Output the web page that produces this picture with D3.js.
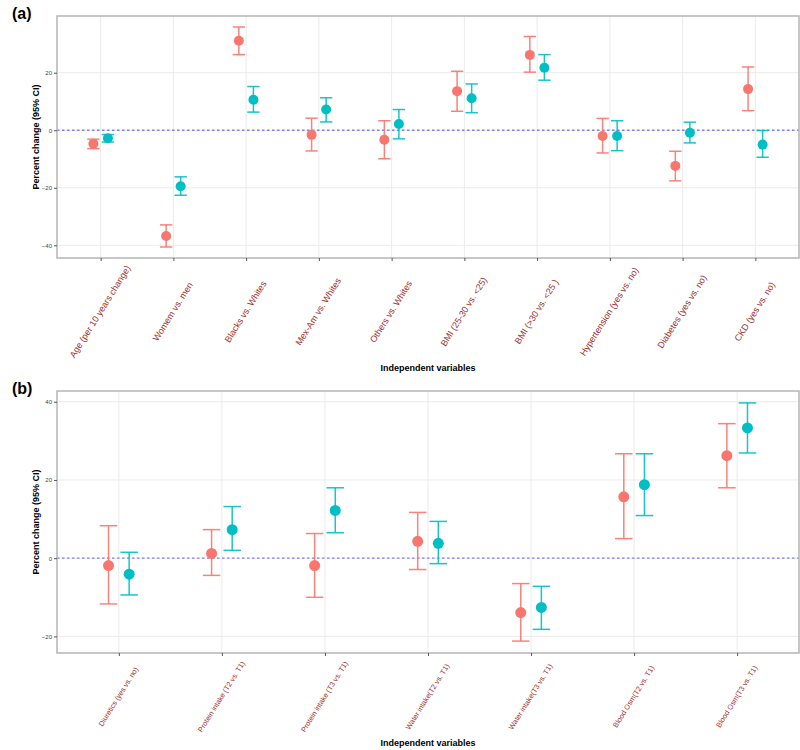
<!DOCTYPE html>
<html>
<head>
<meta charset="utf-8">
<script src="https://cdn.jsdelivr.net/npm/d3@7"></script>
<style>
  body { margin: 0; background: #fff; }
  svg { font-family: "Liberation Sans", Arial, sans-serif; }
</style>
</head>
<body>
<svg id="chart" width="800" height="750"></svg>
<script>
// DATA -----------------------------------------------------------------------------------------------------------------

// Panel (a)
var catsA = ["Age (per 10 years change)", "Womem vs. men", "Blacks vs. Whites", "Mex-Am vs. Whites", "Others vs. Whites",
             "BMI (25-30 vs. <25)", "BMI (>30 vs. <25 )", "Hypertension (yes vs. no)", "Diabetes (yes vs. no)", "CKD (yes vs. no)"];
var estA1 = [-4.7, -36.8, 31.1, -1.6, -3.3, 13.6, 26.2, -2.0, -12.4, 14.3];
var lowA1 = [-6.4, -40.6, 26.3, -7.2, -9.9, 6.6, 20.2, -7.9, -17.6, 6.8];
var uppA1 = [-3.1, -32.9, 35.9, 4.2, 3.3, 20.5, 32.6, 4.1, -7.3, 22.0];
var estA2 = [-2.8, -19.5, 10.6, 7.2, 2.2, 11.1, 21.7, -2.0, -0.9, -5.0];
var lowA2 = [-4.1, -22.6, 6.3, 2.9, -3.0, 6.1, 17.4, -7.1, -4.4, -9.4];
var uppA2 = [-1.5, -16.2, 15.2, 11.3, 7.2, 16.1, 26.3, 3.3, 2.8, -0.1];
var ticksA = [-40, -20, 0, 20];

// Panel (b)
var catsB = ["Diuretics (yes vs. no)", "Protein intake (T2 vs. T1)", "Protein intake (T3 vs. T1)", "Water intake(T2 vs. T1)",
             "Water intake(T3 vs. T1)", "Blood Osm(T2 vs. T1)", "Blood Osm(T3 vs. T1)"];
var estB1 = [-1.9, 1.2, -1.9, 4.3, -13.9, 15.7, 26.2];
var lowB1 = [-11.7, -4.4, -10.0, -2.9, -21.2, 5.0, 18.0];
var uppB1 = [8.3, 7.3, 6.3, 11.7, -6.5, 26.7, 34.4];
var estB2 = [-4.1, 7.3, 12.2, 3.8, -12.6, 18.8, 33.3];
var lowB2 = [-9.4, 2.0, 6.5, -1.4, -18.2, 10.9, 26.9];
var uppB2 = [1.5, 13.2, 18.0, 9.4, -7.2, 26.7, 39.7];
var ticksB = [-20, 0, 20, 40];

var groupColors = ["#F8766D", "#00BFC4"];

// DRAWING --------------------------------------------------------------------------------------------------------------
var svg = d3.select("#chart");

function drawPanel(opt) {
  var g = svg.append("g");
  var x = d3.scalePoint().domain(opt.cats).range([opt.left, opt.right]).padding(0.6);
  var step = x.step();

  // Build rows for both groups
  var rows = [];
  opt.cats.forEach(function(c, i) {
    rows.push({cat: c, grp: 0, est: opt.est1[i], lo: opt.low1[i], hi: opt.upp1[i]});
    rows.push({cat: c, grp: 1, est: opt.est2[i], lo: opt.low2[i], hi: opt.upp2[i]});
  });

  // ggplot style 5% expansion of the y range
  var lo = d3.min(rows, function(d) { return d.lo; });
  var hi = d3.max(rows, function(d) { return d.hi; });
  var pad = (hi - lo) * 0.05;
  var y = d3.scaleLinear().domain([lo - pad, hi + pad]).range([opt.bottom, opt.top]);

  // Grid lines
  g.selectAll(".hgrid").data(opt.ticks).enter().append("line")
    .attr("x1", opt.left).attr("x2", opt.right)
    .attr("y1", function(d) { return y(d); }).attr("y2", function(d) { return y(d); })
    .attr("stroke", "#ebebeb").attr("stroke-width", 1);
  g.selectAll(".vgrid").data(opt.cats).enter().append("line")
    .attr("x1", function(d) { return x(d); }).attr("x2", function(d) { return x(d); })
    .attr("y1", opt.top).attr("y2", opt.bottom)
    .attr("stroke", "#ebebeb").attr("stroke-width", 1);

  // Zero reference line
  g.append("line")
    .attr("x1", opt.left).attr("x2", opt.right)
    .attr("y1", y(0)).attr("y2", y(0))
    .attr("stroke", "#7f7ff2").attr("stroke-width", 1.3)
    .attr("stroke-dasharray", "2.5,2.5");

  // Error bars + points
  var dodge = step * 0.1;
  var cap = step * 0.085;
  function cx(d) { return x(d.cat) + (d.grp === 0 ? -dodge : dodge); }

  var eb = g.selectAll(".eb").data(rows).enter().append("g")
    .attr("stroke", function(d) { return groupColors[d.grp]; })
    .attr("stroke-width", 1.5)
    .attr("stroke-opacity", 0.9);
  eb.append("line")
    .attr("x1", cx).attr("x2", cx)
    .attr("y1", function(d) { return y(d.lo); }).attr("y2", function(d) { return y(d.hi); });
  eb.append("line")
    .attr("x1", function(d) { return cx(d) - cap; }).attr("x2", function(d) { return cx(d) + cap; })
    .attr("y1", function(d) { return y(d.lo); }).attr("y2", function(d) { return y(d.lo); });
  eb.append("line")
    .attr("x1", function(d) { return cx(d) - cap; }).attr("x2", function(d) { return cx(d) + cap; })
    .attr("y1", function(d) { return y(d.hi); }).attr("y2", function(d) { return y(d.hi); });

  g.selectAll(".pt").data(rows).enter().append("circle")
    .attr("cx", cx)
    .attr("cy", function(d) { return y(d.est); })
    .attr("r", opt.r)
    .attr("fill", function(d) { return groupColors[d.grp]; });

  // Panel border
  g.append("rect")
    .attr("x", opt.left).attr("y", opt.top)
    .attr("width", opt.right - opt.left).attr("height", opt.bottom - opt.top)
    .attr("fill", "none").attr("stroke", "#b5b5b5").attr("stroke-width", 1.5);

  // Y axis ticks
  var yAxis = g.append("g")
    .attr("transform", "translate(" + opt.left + ",0)")
    .call(d3.axisLeft(y).tickValues(opt.ticks).tickSize(3).tickPadding(2));
  yAxis.select(".domain").remove();
  yAxis.selectAll("line").attr("stroke", "#555");
  yAxis.selectAll("text").attr("fill", "#444").style("font-size", "6px");

  // X axis ticks
  var xAxis = g.append("g")
    .attr("transform", "translate(0," + opt.bottom + ")")
    .call(d3.axisBottom(x).tickSize(3).tickFormat(""));
  xAxis.select(".domain").remove();
  xAxis.selectAll("line").attr("stroke", "#555");

  // X category labels, rotated
  g.selectAll(".xlab").data(opt.cats).enter().append("text")
    .attr("transform", function(d) { return "translate(" + x(d) + "," + opt.labelY + ") rotate(-58)"; })
    .attr("text-anchor", "middle")
    .attr("dominant-baseline", "middle")
    .attr("fill", "#a0302f")
    .style("font-size", opt.labelSize + "px")
    .text(function(d) { return d; });

  // Axis titles
  g.append("text")
    .attr("transform", "translate(" + 39 + "," + ((opt.top + opt.bottom) / 2) + ") rotate(-90)")
    .attr("text-anchor", "middle")
    .style("font-size", "9px").style("font-weight", "bold")
    .text("Percent change (95% CI)");
  g.append("text")
    .attr("x", (opt.left + opt.right) / 2).attr("y", opt.titleY)
    .attr("text-anchor", "middle")
    .style("font-size", "9px").style("font-weight", "bold")
    .text("Independent variables");

  // Panel letter
  svg.append("text")
    .attr("x", 12).attr("y", opt.letterY)
    .style("font-size", "16px").style("font-weight", "bold")
    .text(opt.letter);
}

drawPanel({
  cats: catsA, est1: estA1, low1: lowA1, upp1: uppA1, est2: estA2, low2: lowA2, upp2: uppA2, ticks: ticksA,
  left: 57, right: 799, top: 16, bottom: 258, r: 5, labelY: 312, labelSize: 9, titleY: 371,
  letter: "(a)", letterY: 19
});

drawPanel({
  cats: catsB, est1: estB1, low1: lowB1, upp1: uppB1, est2: estB2, low2: lowB2, upp2: uppB2, ticks: ticksB,
  left: 57, right: 799, top: 391, bottom: 653, r: 5.5, labelY: 697, labelSize: 7.3, titleY: 746,
  letter: "(b)", letterY: 394
});
</script>
</body>
</html>
